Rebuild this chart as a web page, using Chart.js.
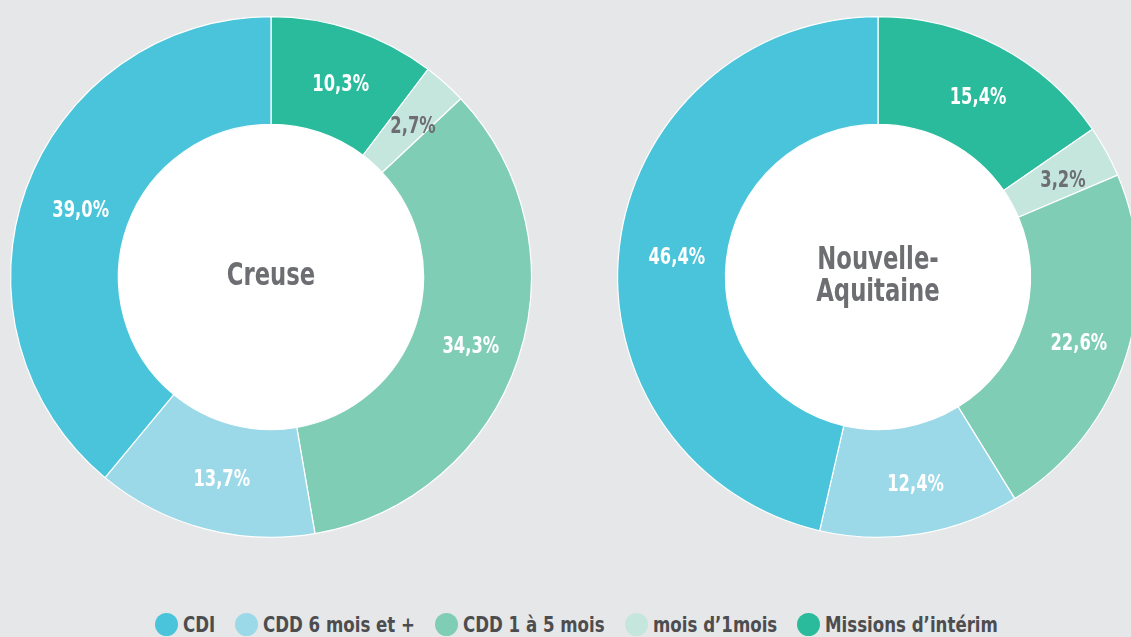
<!DOCTYPE html>
<html lang="fr">
<head>
<meta charset="utf-8">
<script src="https://cdn.jsdelivr.net/npm/chart.js@4"></script>
<style>
  html, body { margin: 0; padding: 0; }
  body {
    width: 1131px; height: 637px; overflow: hidden;
    background: #e6e7e8; position: relative;
    font-family: "DejaVu Sans Condensed", "DejaVu Sans", sans-serif;
  }
  .donut { position: absolute; top: 7px; width: 540px; height: 540px; }
  #legende {
    position: absolute; left: 155px; top: 612px;
    display: flex; align-items: center; white-space: nowrap;
    font-weight: bold; font-size: 22px; color: #4d4d4f;
  }
  #legende span.item { display: flex; align-items: center; margin-right: 20px; }
  #legende span.pastille { width: 23px; height: 23px; border-radius: 50%; margin-right: 5px; display: inline-block; }
  #legende span.texto { display: inline-block; transform: scaleX(0.84); transform-origin: left center; }
</style>
</head>
<body>
<div class="donut" style="left:1px"><canvas id="graficoCreuse" width="540" height="540"></canvas></div>
<div class="donut" style="left:608px"><canvas id="graficoNA" width="540" height="540"></canvas></div>
<div id="legende"></div>
<script>
// Catégories dans l'ordre de la légende
const categorias = ["CDI", "CDD 6 mois et +", "CDD 1 à 5 mois", "mois d’1mois", "Missions d’intérim"];
const colores = ["#4ac4da", "#9bd9e8", "#80cdb6", "#c5e6dd", "#29bb9b"];
// Couleur du texte des pourcentages (gris pour les petites parts claires)
const coloresTexto = ["#ffffff", "#ffffff", "#ffffff", "#6d6e71", "#ffffff"];

// Valeurs en % (même ordre que les catégories)
const valoresCreuse = [39.0, 13.7, 34.3, 2.7, 10.3];
const valoresNA = [46.4, 12.4, 22.6, 3.2, 15.4];

const titulos = [["Creuse"], ["Nouvelle-", "Aquitaine"]];

const fuente = '"DejaVu Sans Condensed", "DejaVu Sans", sans-serif';
const escalaX = 0.79; // police étroite simulée

// Le graphique commence en haut par "Missions d'intérim" et tourne dans le sens horaire
function invertir(arr) {
  return arr.slice().reverse();
}

function textoEstrecho(ctx, txt, x, y) {
  ctx.save();
  ctx.translate(x, y);
  ctx.scale(escalaX, 1);
  ctx.fillText(txt, 0, 0);
  ctx.restore();
}

// Plugin : trou blanc, pourcentages et titre au centre
const pluginTextos = {
  id: "textos",
  beforeDatasetsDraw(chart) {
    const arc0 = chart.getDatasetMeta(0).data[0];
    const ctx = chart.ctx;
    ctx.save();
    ctx.fillStyle = "#ffffff";
    ctx.beginPath();
    ctx.arc(arc0.x, arc0.y, arc0.innerRadius, 0, Math.PI * 2);
    ctx.fill();
    ctx.restore();
  },
  afterDatasetsDraw(chart, args, opts) {
    const ctx = chart.ctx;
    const meta = chart.getDatasetMeta(0);
    const ds = chart.data.datasets[0];
    ctx.save();
    ctx.textAlign = "center";
    ctx.textBaseline = "middle";
    ctx.font = "bold 23px " + fuente;
    meta.data.forEach((arc, i) => {
      const pos = arc.tooltipPosition();
      ctx.fillStyle = ds.textColors[i];
      const txt = ds.data[i].toFixed(1).replace(".", ",") + "%";
      textoEstrecho(ctx, txt, pos.x + 4, pos.y + 4);
    });
    // Titre au centre
    const arc0 = meta.data[0];
    ctx.fillStyle = "#6d6e71";
    ctx.font = "bold 32px " + fuente;
    const lineas = opts.lineas;
    const alto = 32;
    lineas.forEach((l, j) => {
      textoEstrecho(ctx, l, arc0.x, arc0.y + (j - (lineas.length - 1) / 2) * alto);
    });
    ctx.restore();
  },
};

function crearDonut(idCanvas, valores, lineas) {
  const ctx = document.getElementById(idCanvas).getContext("2d");
  return new Chart(ctx, {
    type: "doughnut",
    data: {
      labels: invertir(categorias),
      datasets: [
        {
          data: invertir(valores),
          backgroundColor: invertir(colores),
          textColors: invertir(coloresTexto),
          borderColor: "#ffffff",
          borderWidth: 1.2,
        },
      ],
    },
    options: {
      responsive: false,
      animation: false,
      cutout: "58.6%",
      layout: { padding: 9 },
      plugins: {
        legend: { display: false },
        tooltip: { enabled: false },
        textos: { lineas: lineas },
      },
    },
    plugins: [pluginTextos],
  });
}

crearDonut("graficoCreuse", valoresCreuse, titulos[0]);
crearDonut("graficoNA", valoresNA, titulos[1]);

// Légende commune en bas
const legende = document.getElementById("legende");
categorias.forEach((cat, i) => {
  const item = document.createElement("span");
  item.className = "item";
  const pastille = document.createElement("span");
  pastille.className = "pastille";
  pastille.style.background = colores[i];
  const texto = document.createElement("span");
  texto.className = "texto";
  texto.textContent = cat;
  item.appendChild(pastille);
  item.appendChild(texto);
  legende.appendChild(item);
  // compenser la largeur perdue par le scaleX
  const w = texto.offsetWidth;
  texto.style.marginRight = -(w * 0.16) + "px";
});
</script>
</body>
</html>
